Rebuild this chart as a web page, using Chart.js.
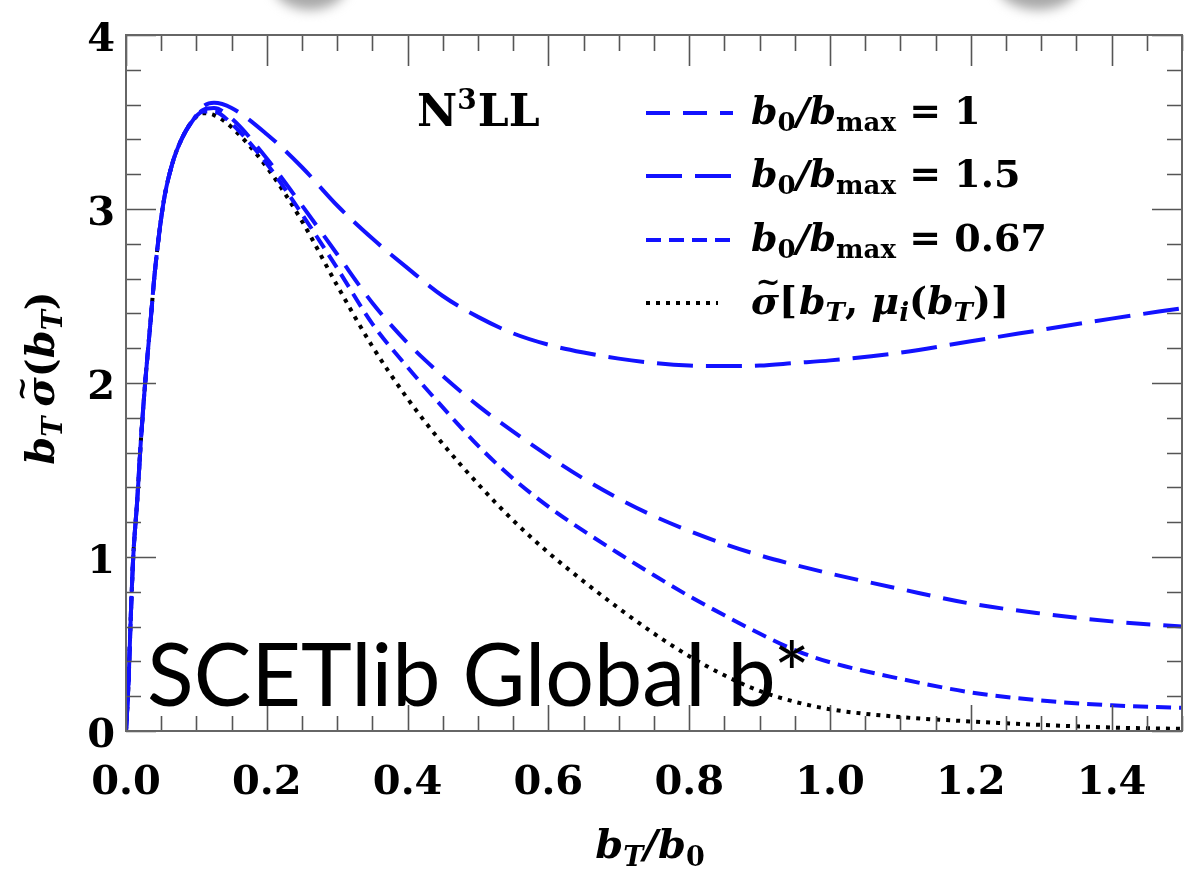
<!DOCTYPE html>
<html><head><meta charset="utf-8">
<script src="https://cdn.jsdelivr.net/npm/chart.js@4.4.1/dist/chart.umd.min.js"></script>
<style>html,body{margin:0;padding:0;background:#fff;overflow:hidden}</style>
</head><body>
<canvas id="c" width="1184" height="880"></canvas>
<script>
// ---- data ----
const bT = [0,0.0033,0.007,0.01,0.016,0.021,0.027,0.035,0.041,0.053,0.065,0.08,0.095,
  0.11,0.125,0.15,0.2,0.25,0.3,0.35,0.4,0.45,0.5,0.55,0.6,0.65,0.7,0.75,0.8,0.85,0.9,0.95,1.0,1.1,1.2,1.3,1.4,1.5];
const ratio1 = [0,0.25,0.68,0.98,1.33,1.66,1.99,2.36,2.64,3.03,3.25,3.41,3.51,
  3.57,3.58,3.52,3.29,3.02,2.74,2.46,2.23,2.04,1.87,1.72,1.58,1.45,1.335,1.235,1.15,1.075,1.01,0.955,0.905,0.816,0.732,0.675,0.63,0.60];
const ratio15 = [0,0.25,0.68,0.98,1.33,1.66,1.99,2.36,2.64,3.03,3.25,3.41,3.51,
  3.59,3.61,3.58,3.43,3.24,3.02,2.83,2.66,2.50,2.38,2.285,2.22,2.175,2.14,2.115,2.10,2.097,2.10,2.115,2.13,2.174,2.24,2.305,2.37,2.43];
const ratio067 = [0,0.25,0.68,0.98,1.33,1.66,1.99,2.36,2.64,3.03,3.25,3.41,3.51,
  3.56,3.56,3.49,3.26,2.97,2.66,2.34,2.09,1.86,1.64,1.45,1.29,1.15,1.02,0.895,0.775,0.665,0.56,0.465,0.395,0.30,0.222,0.175,0.148,0.133];
const canonical = [0,0.25,0.68,0.98,1.33,1.66,1.99,2.36,2.64,3.03,3.25,3.41,3.51,
  3.55,3.54,3.47,3.24,2.93,2.56,2.21,1.91,1.65,1.42,1.21,1.025,0.86,0.705,0.56,0.43,0.32,0.23,0.168,0.125,0.08,0.055,0.035,0.02,0.012];
const xTickLabels = ['0.0','0.2','0.4','0.6','0.8','1.0','1.2','1.4'];
const yTickLabels = ['0','1','2','3','4'];
const seriesNames = ['b0/bmax = 1','b0/bmax = 1.5','b0/bmax = 0.67','σ̃[bT, μi(bT)]'];

const BLUE = '#1212ff';
const SERIF = '"DejaVu Serif"';
const styles = [
  {color: BLUE, dash: [24, 13], width: 4},
  {color: BLUE, dash: [36, 13], width: 4},
  {color: BLUE, dash: [15, 8], width: 4},
  {color: '#000', dash: [4, 6], width: 4}
];
const seriesVals = [ratio1, ratio15, ratio067, canonical];

function pts(arr){ return bT.map((x,i)=>({x:x, y:arr[i]})); }

function drawRich(ctx, segs, x, y, align){
  let w = 0;
  segs.forEach(s=>{ ctx.font = s.f; s.w = ctx.measureText(s.t).width; w += s.w + (s.gap||0); });
  let cx = align === 'center' ? x - w/2 : x;
  ctx.textAlign = 'left'; ctx.textBaseline = 'alphabetic';
  segs.forEach(s=>{
    ctx.font = s.f;
    ctx.fillText(s.t, cx, y + (s.dy||0));
    if (s.tilde){
      ctx.font = s.tilde;
      const tw = ctx.measureText('~').width;
      ctx.fillText('~', cx + s.w/2 - tw/2 + 3, y - 22);
    }
    cx += s.w + (s.gap||0);
  });
  return w;
}

const BI = sz => 'italic bold ' + sz + 'px ' + SERIF;
const B = sz => 'bold ' + sz + 'px ' + SERIF;

const deco = {
  id: 'deco',
  beforeDraw(chart){
    const ctx = chart.ctx;
    ctx.save();
    ctx.fillStyle = '#fff'; ctx.fillRect(0,0,chart.width,chart.height);
    // soft grey shapes at the top edge
    ctx.filter = 'blur(6px)';
    ctx.fillStyle = '#a8a8a8';
    ctx.beginPath(); ctx.ellipse(310, -18, 38, 28, 0, 0, Math.PI*2); ctx.fill();
    ctx.beginPath(); ctx.ellipse(1038, -18, 42, 28, 0, 0, Math.PI*2); ctx.fill();
    ctx.filter = 'none';
    ctx.restore();
  },
  afterDraw(chart){
    const ctx = chart.ctx, a = chart.chartArea;
    const xs = chart.scales.x, ys = chart.scales.y;
    ctx.save();
    // ticks (inward, all four sides)
    ctx.strokeStyle = '#555'; ctx.lineWidth = 1.6;
    ctx.beginPath();
    for (let i = 0; i <= 30; i++){
      const v = i*0.05, px = Math.round(xs.getPixelForValue(v)) + 0.5;
      const major = (i % 4 === 0);
      const lb = major ? 26 : 15, lt = major ? 31 : 16;
      ctx.moveTo(px, a.bottom); ctx.lineTo(px, a.bottom - lb);
      ctx.moveTo(px, a.top); ctx.lineTo(px, a.top + lt);
    }
    for (let i = 0; i <= 20; i++){
      const v = i*0.2, py = Math.round(ys.getPixelForValue(v)) + 0.5;
      const major = (i % 5 === 0);
      const l = major ? 30 : 15;
      ctx.moveTo(a.left, py); ctx.lineTo(a.left + l, py);
      ctx.moveTo(a.right, py); ctx.lineTo(a.right - l, py);
    }
    ctx.stroke();
    // frame
    ctx.strokeStyle = '#666'; ctx.lineWidth = 2;
    ctx.strokeRect(a.left, a.top, a.right - a.left, a.bottom - a.top);

    // N^3LL
    ctx.fillStyle = '#000';
    drawRich(ctx, [
      {t:'N', f:B(44)}, {t:'3', f:B(28), dy:-17, gap:1}, {t:'LL', f:B(44)}
    ], 417, 126, 'left');

    // legend
    const rows = [113, 176, 240, 303];
    const vals = ['1', '1.5', '0.67'];
    rows.forEach((ry, i)=>{
      ctx.save();
      ctx.strokeStyle = styles[i].color; ctx.lineWidth = styles[i].width;
      ctx.setLineDash(styles[i].dash);
      ctx.beginPath();
      ctx.moveTo(646, ry); ctx.lineTo(i === 3 ? 718 : 733, ry); ctx.stroke();
      ctx.restore();
      ctx.fillStyle = '#000';
      if (i < 3){
        drawRich(ctx, [
          {t:'b', f:BI(38)}, {t:'0', f:B(26), dy:7},
          {t:'/', f:BI(38)}, {t:'b', f:BI(38)}, {t:'max', f:B(26), dy:7},
          {t:' = ', f:B(38)}, {t:vals[i], f:B(38)}
        ], 751, ry + 11, 'left');
      } else {
        drawRich(ctx, [
          {t:'σ', f:BI(38), tilde:B(30)}, {t:'[', f:B(38), gap:2}, {t:'b', f:BI(38)}, {t:'T', f:BI(26), dy:7},
          {t:', ', f:B(38)}, {t:'μ', f:BI(38)}, {t:'i', f:BI(26), dy:7},
          {t:'(', f:B(38)}, {t:'b', f:BI(38)}, {t:'T', f:BI(26), dy:7}, {t:')]', f:B(38)}
        ], 751, ry + 11, 'left');
      }
    });

    // axis titles
    drawRich(ctx, [
      {t:'b', f:BI(40)}, {t:'T', f:BI(27), dy:8}, {t:'/', f:BI(40)}, {t:'b', f:BI(40)}, {t:'0', f:B(27), dy:8}
    ], 650, 858, 'center');
    ctx.save();
    ctx.translate(54, 378); ctx.rotate(-Math.PI/2);
    drawRich(ctx, [
      {t:'b', f:BI(40)}, {t:'T', f:BI(27), dy:8, gap:10},
      {t:'σ', f:BI(40), tilde:B(30)}, {t:'(', f:B(40)}, {t:'b', f:BI(40)}, {t:'T', f:BI(27), dy:8}, {t:')', f:B(40)}
    ], 0, 0, 'center');
    ctx.restore();

    // overlay label
    ctx.save();
    ctx.font = '88px Lato';
    const txt = 'SCETlib Global b*';
    const w = ctx.measureText(txt).width;
    const sx = (810 - 147) / w;
    ctx.translate(147, 706); ctx.scale(sx, 1);
    ctx.textAlign = 'left'; ctx.textBaseline = 'alphabetic';
    ctx.fillStyle = '#000';
    ctx.fillText(txt, 0, 0);
    ctx.restore();

    ctx.restore();
  }
};

const chart = new Chart(document.getElementById('c').getContext('2d'), {
  type: 'line',
  data: {
    datasets: seriesVals.map((arr, i)=>({
      label: seriesNames[i],
      data: pts(arr),
      borderColor: styles[i].color,
      borderDash: styles[i].dash,
      borderWidth: styles[i].width,
      pointRadius: 0,
      fill: false,
      cubicInterpolationMode: 'monotone'
    }))
  },
  options: {
    responsive: false,
    animation: false,
    devicePixelRatio: 1,
    layout: {padding: {top: 24, right: 2, left: 0, bottom: 0}},
    plugins: {legend: {display: false}, tooltip: {enabled: false}},
    scales: {
      x: {
        type: 'linear', min: 0, max: 1.5,
        grid: {display: false, drawTicks: false},
        border: {display: false},
        afterBuildTicks: s => { s.ticks = xTickLabels.map(t=>({value: parseFloat(t)})); },
        afterFit: s => { s.height = 880 - 731; },
        ticks: {
          color: '#000', padding: 29, maxRotation: 0, autoSkip: false,
          font: {family: 'DejaVu Serif', weight: 'bold', size: 40},
          callback: v => v.toFixed(1)
        }
      },
      y: {
        type: 'linear', min: 0, max: 4,
        grid: {display: false, drawTicks: false},
        border: {display: false},
        afterBuildTicks: s => { s.ticks = yTickLabels.map(t=>({value: parseFloat(t)})); },
        afterFit: s => { s.width = 126; },
        ticks: {
          color: '#000', padding: 11, labelOffset: 6,
          font: {family: 'DejaVu Serif', weight: 'bold', size: 40},
          callback: v => String(v)
        }
      }
    }
  },
  plugins: [deco]
});
</script>
</body></html>
